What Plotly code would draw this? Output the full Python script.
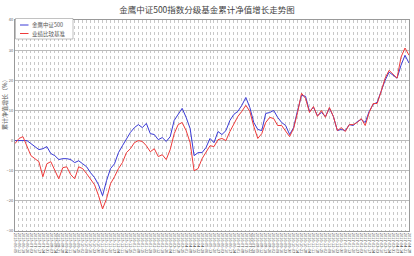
import plotly.graph_objects as go
import pandas as pd

title = "金鹰中证500指数分级基金累计净值增长走势图"
name_fund = "金鹰中证500"
name_bench = "业绩比较基准"
y_title = "累计净值增长（%）"
color_fund = "#3a3ad6"
color_bench = "#ee3b3b"

fund = [0.0, 0.0, 0.0, 0.0, -1.0, -2.0, -3.0, -2.7, -2.0, -4.3,
        -5.0, -6.3, -6.0, -6.0, -6.3, -7.3, -6.7, -7.7, -8.7, -10.7,
        -12.3, -14.7, -18.3, -13.3, -9.3, -7.7, -4.0, -1.7, 0.7, 2.7,
        4.3, 5.3, 4.3, 5.7, 2.3, 2.0, 0.3, 1.0, -0.3, 1.3,
        6.7, 8.7, 10.7, 7.7, 4.0, -5.0, -4.0, -4.0, -2.3, 0.7,
        -0.7, 3.0, 2.0, 3.3, 6.7, 8.7, 9.7, 11.7, 14.3, 11.0,
        6.0, 3.7, 3.3, 9.0, 9.3, 10.0, 7.7, 6.0, 5.0, 2.0,
        4.3, 10.0, 15.0, 14.7, 9.7, 11.0, 8.3, 9.3, 8.0, 10.7,
        8.0, 3.3, 3.7, 3.3, 5.3, 5.0, 6.3, 7.0, 6.0, 9.7,
        12.0, 12.7, 16.3, 20.0, 22.7, 21.7, 20.7, 25.0, 28.3, 25.7]

bench = [-1.0, 0.7, 1.3, -2.0, -5.0, -6.0, -7.0, -12.0, -7.7, -7.0,
         -10.0, -12.7, -9.0, -8.7, -11.3, -12.7, -8.7, -9.3, -11.0, -13.0,
         -14.7, -18.3, -22.7, -19.3, -14.3, -12.0, -9.3, -7.3, -4.0, -2.7,
         -0.7, 0.0, -0.3, -1.7, -3.7, -2.7, -5.3, -4.7, -6.3, -3.0,
         2.3, 5.3, 6.0, 3.3, -0.7, -10.0, -9.3, -6.0, -3.7, -1.7,
         -2.0, 0.3, 0.7, 0.0, 3.0, 5.7, 8.0, 9.7, 11.7, 9.7,
         4.7, 0.7, 2.3, 6.0, 7.7, 7.3, 5.0, 5.0, 3.3, 1.3,
         4.0, 9.3, 15.7, 14.0, 9.3, 11.3, 8.0, 10.0, 7.7, 11.0,
         8.0, 3.3, 4.3, 3.0, 5.3, 5.3, 6.0, 7.3, 5.0, 9.3,
         12.3, 12.3, 16.3, 20.7, 23.3, 22.0, 20.7, 27.7, 30.7, 28.3]

dates = [d.strftime("%Y-%m-%d") for d in pd.date_range("2015-06-05", periods=len(fund), freq="W-FRI")]

W, H = 414, 256
ML, MR, MT, MB = 15, 5, 20, 25
PW, PH = W - ML - MR, H - MT - MB


def px_x(p):
    return (p - ML) / PW


def px_y(p):
    return (H - MB - p) / PH


fig = go.Figure()
fig.add_trace(go.Scatter(x=dates, y=fund, mode="lines", name=name_fund,
                         line=dict(color=color_fund, width=1)))
fig.add_trace(go.Scatter(x=dates, y=bench, mode="lines", name=name_bench,
                         line=dict(color=color_bench, width=1)))

# compact legend drawn with shapes + text annotations
shapes = [
    dict(type="rect", xref="paper", yref="paper",
         x0=px_x(15.5), x1=px_x(73), y0=px_y(39), y1=px_y(18.5),
         fillcolor="white", line=dict(color="#999999", width=0.6), layer="above"),
    dict(type="line", xref="paper", yref="paper",
         x0=px_x(20), x1=px_x(28.5), y0=px_y(25), y1=px_y(25),
         line=dict(color=color_fund, width=1), layer="above"),
    dict(type="line", xref="paper", yref="paper",
         x0=px_x(20), x1=px_x(28.5), y0=px_y(33.5), y1=px_y(33.5),
         line=dict(color=color_bench, width=1), layer="above"),
]
annotations = [
    dict(text=name_fund, xref="paper", yref="paper", x=px_x(30), y=px_y(25),
         xanchor="left", yanchor="middle", showarrow=False,
         font=dict(size=5.5, color="#555555")),
    dict(text=name_bench, xref="paper", yref="paper", x=px_x(30), y=px_y(33.5),
         xanchor="left", yanchor="middle", showarrow=False,
         font=dict(size=5.5, color="#555555")),
    dict(text=y_title, xref="paper", yref="paper", x=px_x(5), y=px_y(103),
         xanchor="center", yanchor="middle", textangle=-90, showarrow=False,
         font=dict(size=6, color="#555555")),
]

fig.update_layout(
    width=W, height=H,
    margin=dict(l=ML, r=MR, t=MT, b=MB),
    paper_bgcolor="white", plot_bgcolor="white",
    font=dict(family="Noto Sans CJK SC", color="#555555"),
    title=dict(text=title, x=0.5, xanchor="center", y=1 - 10 / H, yanchor="middle",
               font=dict(size=8.5, color="#444444", family="Noto Sans CJK SC")),
    showlegend=False,
    shapes=shapes,
    annotations=annotations,
)
fig.update_xaxes(type="category", range=[0, len(fund) - 1],
                 tickmode="linear", dtick=1, tickangle=90,
                 tickfont=dict(size=4, color="#444444"),
                 showgrid=True, gridcolor="#c8c8c8", gridwidth=0.5, griddash="dot",
                 showline=True, linecolor="#999999", linewidth=1, mirror=True,
                 ticks="", automargin=False)
fig.update_yaxes(range=[-30, 40], dtick=10,
                 tickfont=dict(size=4, color="#666666"),
                 showgrid=True, gridcolor="#bbbbbb", gridwidth=0.7,
                 zeroline=False,
                 showline=True, linecolor="#999999", linewidth=1, mirror=True,
                 automargin=False)

fig.write_html("out.html", config={"displayModeBar": False},
               post_script="document.body.style.margin='0';document.body.style.padding='0';")
